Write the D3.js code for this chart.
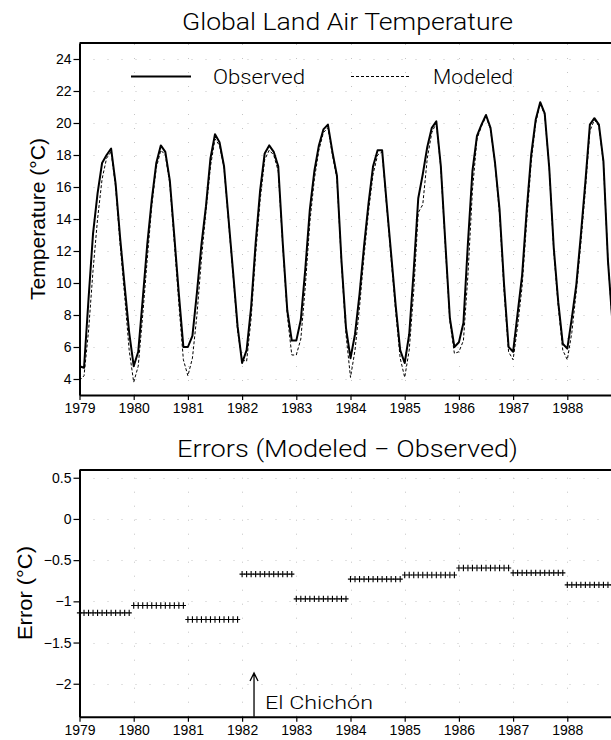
<!DOCTYPE html>
<html>
<head>
    <meta charset="utf-8">
    <title>Global Land Air Temperature</title>
    <script src="https://cdn.jsdelivr.net/npm/d3@7"></script>
    <style>
        body { margin: 0; background: #fff; }
        svg text { fill: #000; }
    </style>
</head>
<body>
</body>
<script>
    var w = 611
    var h = 740

    // data
    var years = [1979, 1980, 1981, 1982, 1983, 1984, 1985, 1986, 1987, 1988]
    var observed = [
        4.8, 4.7, 9.0, 13.1, 15.6, 17.5, 18.0, 18.4, 16.2, 12.8, 9.8, 6.9,
        4.8, 5.7, 9.0, 12.4, 15.2, 17.5, 18.6, 18.2, 16.4, 12.9, 9.3, 6.0,
        6.0, 6.7, 9.4, 12.4, 14.8, 17.8, 19.3, 18.8, 17.3, 14.0, 10.7, 7.3,
        5.0, 5.8, 8.5, 12.5, 15.8, 18.1, 18.6, 18.2, 17.3, 12.5, 8.3, 6.4,
        6.4, 7.7, 10.9, 14.6, 17.0, 18.6, 19.6, 19.9, 18.2, 16.7, 11.4, 7.2,
        5.3, 6.8, 9.3, 12.3, 15.0, 17.3, 18.3, 18.3, 15.0, 11.8, 8.6, 5.8,
        5.0, 6.8, 10.8, 15.3, 16.8, 18.5, 19.7, 20.1, 17.3, 12.5, 7.8, 6.0,
        6.3, 7.5, 12.5, 17.0, 19.2, 19.9, 20.5, 19.7, 17.5, 14.6, 9.9, 6.0,
        5.7, 8.1, 10.5, 14.5, 18.0, 20.2, 21.3, 20.6, 17.2, 12.2, 8.8, 6.2,
        5.9, 7.8, 9.9, 13.0, 16.3, 19.9, 20.3, 19.9, 17.6, 11.4, 7.5, 5.8
    ]
    var modeled = [
        3.9, 4.2, 7.0, 10.8, 14.0, 16.5, 17.8, 18.2, 16.0, 12.4, 9.2, 5.8,
        3.8, 4.8, 8.0, 11.5, 14.8, 17.2, 18.3, 18.0, 16.2, 12.5, 8.7, 5.2,
        4.2, 5.3, 8.0, 11.5, 14.5, 17.3, 19.0, 18.6, 17.2, 13.8, 10.5, 7.0,
        5.2, 5.1, 7.8, 11.8, 15.2, 17.7, 18.3, 18.0, 17.0, 12.3, 8.0, 5.5,
        5.5, 6.5, 9.8, 13.8, 16.5, 18.3, 19.4, 19.7, 18.0, 16.5, 11.2, 6.8,
        4.1, 5.8, 8.5, 11.7, 14.5, 16.8, 18.0, 18.2, 14.8, 11.5, 8.2, 5.3,
        4.1, 5.8, 9.5, 14.4, 14.9, 17.8, 19.4, 20.0, 17.2, 12.3, 7.6, 5.6,
        5.7, 6.4, 10.5, 15.8, 19.0, 19.8, 20.4, 19.6, 17.4, 14.3, 9.5, 5.7,
        5.2, 7.3, 9.8, 13.8, 17.5, 20.0, 21.2, 20.5, 17.2, 12.0, 8.5, 5.8,
        5.2, 6.9, 9.5, 12.5, 15.8, 19.5, 20.2, 19.8, 17.5, 11.4, 7.4, 5.6
    ]
    // annual mean error (modeled - observed), one value per year
    var errorMeans = [-1.14, -1.05, -1.22, -0.67, -0.97, -0.73, -0.68, -0.595, -0.655, -0.80]
    var tempTicks = [4, 6, 8, 10, 12, 14, 16, 18, 20, 22, 24]
    var errTicks = [0.5, 0, -0.5, -1, -1.5, -2]
    var eventYear = 1982.22
    var eventLabel = "El Chichón"

    var font = "'Liberation Sans', Arial, sans-serif"
    var titleFont = "Roboto, 'Liberation Sans', sans-serif"

    var svg = d3.select("body")
        .append("svg")
        .attr("width", w)
        .attr("height", h)

    var xScale = d3.scaleLinear()
        .domain([1979, 1989])
        .range([79.5, 621.5])

    var yTop = d3.scaleLinear()
        .domain([3, 25])
        .range([395, 43])

    var yBot = d3.scaleLinear()
        .domain([-2.4, 0.6])
        .range([716.7, 469.5])

    var monthly = observed.map(function(d, i) {
        return { t: 1979 + i / 12, obs: d, mod: modeled[i] }
    })

    // faint dotted grid like the scanned original
    function grid(yScale, ticks) {
        var g = svg.append("g").attr("class", "grid")
        g.selectAll("line.h").data(ticks).enter().append("line")
            .attr("x1", xScale(1979)).attr("x2", w)
            .attr("y1", function(d) { return Math.round(yScale(d)) + 0.5 })
            .attr("y2", function(d) { return Math.round(yScale(d)) + 0.5 })
        g.selectAll("line.v").data(years.slice(1)).enter().append("line")
            .attr("x1", function(d) { return Math.round(xScale(d)) + 0.5 })
            .attr("x2", function(d) { return Math.round(xScale(d)) + 0.5 })
            .attr("y1", yScale.range()[0]).attr("y2", yScale.range()[1])
        g.selectAll("line")
            .attr("stroke", "#c4c4c4")
            .attr("stroke-width", 1)
            .attr("stroke-dasharray", "1,13")
    }
    grid(yTop, tempTicks)
    grid(yBot, errTicks)

    // ---- top panel ----
    var lineObs = d3.line()
        .x(function(d) { return xScale(d.t) })
        .y(function(d) { return yTop(d.obs) })
    var lineMod = d3.line()
        .x(function(d) { return xScale(d.t) })
        .y(function(d) { return yTop(d.mod) })

    svg.append("path").datum(monthly)
        .attr("d", lineMod)
        .attr("fill", "none")
        .attr("stroke", "#000")
        .attr("stroke-width", 1)
        .attr("stroke-dasharray", "3,2")
    svg.append("path").datum(monthly)
        .attr("d", lineObs)
        .attr("fill", "none")
        .attr("stroke", "#000")
        .attr("stroke-width", 2)
        .attr("stroke-linejoin", "round")

    function styleAxis(g, size) {
        g.select(".domain").attr("stroke-width", 2)
        g.selectAll(".tick line").attr("stroke-width", 1.2)
        g.selectAll("text").attr("font-family", font).attr("font-size", size + "px").attr("fill", "#000")
    }

    svg.append("g")
        .attr("transform", "translate(79.5,0)")
        .call(d3.axisLeft(yTop).tickValues(tempTicks).tickSize(6).tickSizeOuter(0).tickPadding(2))
        .call(styleAxis, 14)
    svg.append("g")
        .attr("transform", "translate(0,395)")
        .call(d3.axisBottom(xScale).tickValues(years).tickFormat(d3.format("d")).tickSize(5).tickSizeOuter(0).tickPadding(3))
        .call(styleAxis, 14)
    svg.append("line")
        .attr("x1", 79.5).attr("x2", w).attr("y1", 43).attr("y2", 43)
        .attr("stroke", "#000").attr("stroke-width", 2)

    svg.append("text")
        .attr("x", 182).attr("y", 29.5)
        .attr("textLength", 331).attr("lengthAdjust", "spacingAndGlyphs")
        .attr("font-family", titleFont).attr("font-weight", 300).attr("font-size", "23px")
        .text("Global Land Air Temperature")

    svg.append("text")
        .attr("transform", "translate(45,219) rotate(-90)")
        .attr("text-anchor", "middle")
        .attr("textLength", 162).attr("lengthAdjust", "spacingAndGlyphs")
        .attr("font-family", font).attr("font-size", "20px")
        .text("Temperature (°C)")

    // legend
    var legend = [
        { name: "Observed", x1: 131, x2: 191, tx: 213, len: 92, width: 2, dash: null },
        { name: "Modeled", x1: 351, x2: 411, tx: 433, len: 80, width: 1, dash: "3,2" }
    ]
    legend.forEach(function(l) {
        svg.append("line")
            .attr("x1", l.x1).attr("x2", l.x2).attr("y1", 76.5).attr("y2", 76.5)
            .attr("stroke", "#000").attr("stroke-width", l.width)
            .attr("stroke-dasharray", l.dash)
        svg.append("text")
            .attr("x", l.tx).attr("y", 84)
            .attr("textLength", l.len).attr("lengthAdjust", "spacingAndGlyphs")
            .attr("font-family", titleFont).attr("font-weight", 300).attr("font-size", "20px")
            .text(l.name)
    })

    // ---- bottom panel ----
    var errPoints = []
    years.forEach(function(y, i) {
        for (var m = 0; m < 12; m++) errPoints.push({ t: y + m / 12, v: errorMeans[i] })
    })
    svg.append("g").selectAll("path")
        .data(errPoints)
        .enter()
        .append("path")
        .attr("d", function(d) {
            var px = xScale(d.t), py = yBot(d.v)
            return "M" + (px - 2.6) + "," + py + "h5.2M" + px + "," + (py - 3.2) + "v6.4"
        })
        .attr("stroke", "#000")
        .attr("stroke-width", 1.1)
        .attr("fill", "none")

    var errFormat = function(d) {
        return d === 0 ? "0" : (d < 0 ? "\u2212" : "") + Math.abs(d)
    }
    svg.append("g")
        .attr("transform", "translate(79.5,0)")
        .call(d3.axisLeft(yBot).tickValues(errTicks).tickFormat(errFormat).tickSize(6).tickSizeOuter(0).tickPadding(2))
        .call(styleAxis, 14)
    svg.append("g")
        .attr("transform", "translate(0,716.7)")
        .call(d3.axisBottom(xScale).tickValues(years).tickFormat(d3.format("d")).tickSize(5).tickSizeOuter(0).tickPadding(3))
        .call(styleAxis, 14)
    svg.append("line")
        .attr("x1", 79.5).attr("x2", w).attr("y1", 470).attr("y2", 470)
        .attr("stroke", "#000").attr("stroke-width", 2)

    svg.append("text")
        .attr("x", 177).attr("y", 456.5)
        .attr("textLength", 341).attr("lengthAdjust", "spacingAndGlyphs")
        .attr("font-family", titleFont).attr("font-weight", 300).attr("font-size", "23px")
        .text("Errors (Modeled \u2212 Observed)")

    svg.append("text")
        .attr("transform", "translate(32,593) rotate(-90)")
        .attr("text-anchor", "middle")
        .attr("textLength", 94).attr("lengthAdjust", "spacingAndGlyphs")
        .attr("font-family", font).attr("font-size", "20px")
        .text("Error (°C)")

    // El Chichon arrow
    var ax = xScale(eventYear)
    svg.append("path")
        .attr("d", "M" + ax + ",716.7V673M" + (ax - 4) + ",681L" + ax + ",673L" + (ax + 4) + ",681")
        .attr("stroke", "#000").attr("stroke-width", 1.3).attr("fill", "none")
    svg.append("text")
        .attr("x", 265).attr("y", 709)
        .attr("textLength", 108).attr("lengthAdjust", "spacingAndGlyphs")
        .attr("font-family", titleFont).attr("font-weight", 300).attr("font-size", "19px")
        .text(eventLabel)
</script>
</html>
